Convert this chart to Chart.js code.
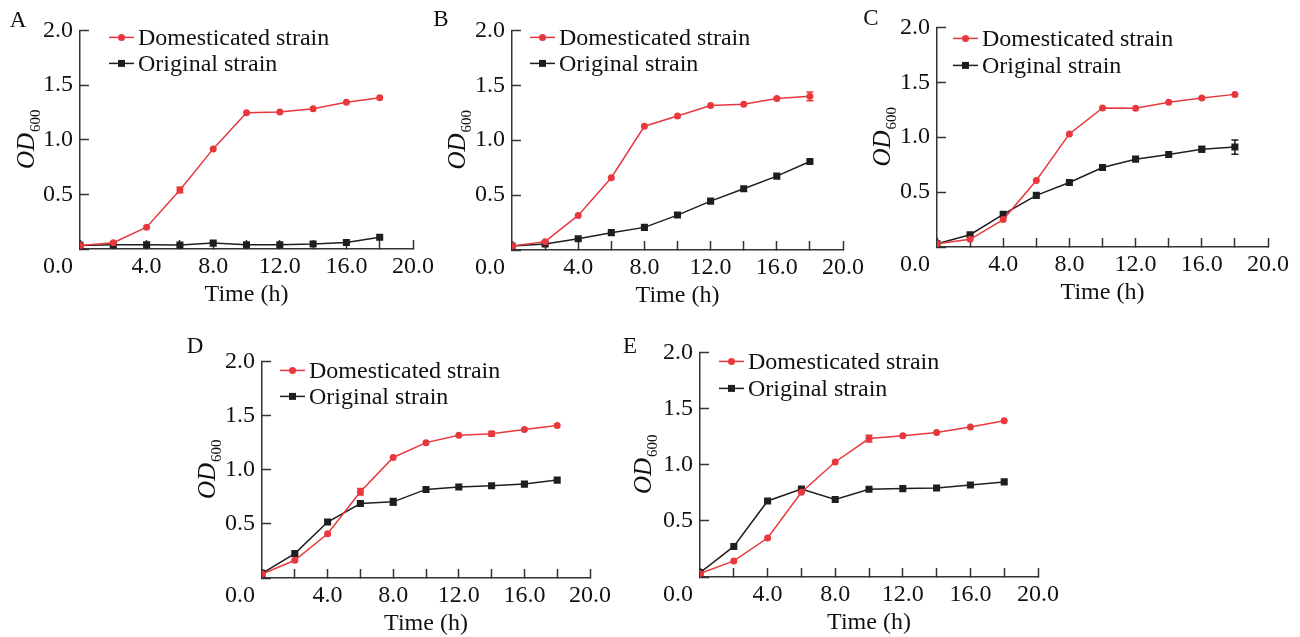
<!DOCTYPE html>
<html><head><meta charset="utf-8">
<script src="https://cdn.jsdelivr.net/npm/chart.js@4.4.1/dist/chart.umd.min.js"></script>
<style>
html,body{margin:0;padding:0;background:#fff;width:1300px;height:637px;overflow:hidden;position:relative}
canvas{position:absolute}
</style></head><body>
<script>
// ---------- DATA ----------
const times = [0, 2, 4, 6, 8, 10, 12, 14, 16, 18];
const seriesNames = ['Domesticated strain', 'Original strain'];
const panelLetters = ['A', 'B', 'C', 'D', 'E'];
const xTickValues = [4, 8, 12, 16, 20];
const yTickValues = [0.5, 1.0, 1.5, 2.0];
const xTitle = 'Time (h)';
const yTitleMain = 'OD';
const yTitleSub = '600';

const domA = [0.033, 0.057, 0.199, 0.539, 0.916, 1.247, 1.253, 1.283, 1.343, 1.383];
const oriA = [0.033, 0.039, 0.039, 0.036, 0.054, 0.039, 0.039, 0.045, 0.060, 0.108];
const domAErr = [0, 0, 0, 0.025, 0, 0, 0, 0, 0, 0];
const oriAErr = [0, 0, 0, 0, 0, 0, 0, 0, 0, 0];

const domB = [0.036, 0.076, 0.315, 0.658, 1.127, 1.221, 1.315, 1.327, 1.379, 1.400];
const oriB = [0.036, 0.055, 0.103, 0.158, 0.206, 0.318, 0.445, 0.558, 0.673, 0.806];
const domBErr = [0, 0, 0, 0, 0, 0, 0, 0, 0, 0.04];
const oriBErr = [0, 0, 0, 0, 0, 0, 0, 0, 0, 0];

const domC = [0.030, 0.070, 0.250, 0.606, 1.030, 1.267, 1.264, 1.318, 1.358, 1.390];
const oriC = [0.030, 0.112, 0.297, 0.470, 0.588, 0.724, 0.800, 0.842, 0.890, 0.910];
const domCErr = [0, 0, 0, 0, 0, 0, 0, 0, 0, 0];
const oriCErr = [0, 0, 0, 0, 0, 0, 0, 0, 0.025, 0.065];

const domD = [0.037, 0.164, 0.408, 0.797, 1.113, 1.250, 1.317, 1.332, 1.372, 1.408];
const oriD = [0.043, 0.225, 0.517, 0.688, 0.703, 0.818, 0.840, 0.852, 0.867, 0.904];
const domDErr = [0, 0, 0, 0.03, 0, 0, 0, 0.02, 0, 0];
const oriDErr = [0, 0, 0, 0, 0.03, 0, 0, 0, 0, 0];

const domE = [0.030, 0.143, 0.347, 0.755, 1.024, 1.233, 1.257, 1.287, 1.335, 1.391];
const oriE = [0.039, 0.272, 0.677, 0.784, 0.690, 0.781, 0.787, 0.793, 0.820, 0.847];
const domEErr = [0, 0, 0, 0, 0, 0.03, 0, 0, 0, 0];
const oriEErr = [0, 0, 0, 0, 0, 0, 0, 0, 0, 0];

// ---------- LAYOUT / STYLE ----------
const RED = '#e8383d';
const BLACK = '#1e1e1e';
const AXIS = '#333333';
const TEXT = '#111111';
const FONT = "'Liberation Serif', 'Times New Roman', Times, serif";
const FS = 24;
const yW = 85, padT = 30, padR = 35, xH = 64;

const panels = [
  {letter: panelLetters[0], dom: domA, ori: oriA, domErr: domAErr, oriErr: oriAErr,
   box: {L: 80, T: 30, R: 413, B: 249}, letterPos: {x: 18, y: 21}, leg: {dx: 29, r1: 7, r2: 33}, yt: -54},
  {letter: panelLetters[1], dom: domB, ori: oriB, domErr: domBErr, oriErr: oriBErr,
   box: {L: 512, T: 30, R: 843, B: 250}, letterPos: {x: 441, y: 20}, leg: {dx: 18, r1: 7, r2: 33}, yt: -55},
  {letter: panelLetters[2], dom: domC, ori: oriC, domErr: domCErr, oriErr: oriCErr,
   box: {L: 937, T: 27, R: 1268, B: 247}, letterPos: {x: 871, y: 19}, leg: {dx: 16, r1: 11, r2: 38}, yt: -55},
  {letter: panelLetters[3], dom: domD, ori: oriD, domErr: domDErr, oriErr: oriDErr,
   box: {L: 262, T: 361, R: 590, B: 578}, letterPos: {x: 195, y: 347}, leg: {dx: 18, r1: 9, r2: 35}, yt: -55},
  {letter: panelLetters[4], dom: domE, ori: oriE, domErr: domEErr, oriErr: oriEErr,
   box: {L: 700, T: 352, R: 1038, B: 577}, letterPos: {x: 630, y: 347}, leg: {dx: 19, r1: 9, r2: 36}, yt: -57}
];

Chart.defaults.font.family = FONT;
Chart.defaults.font.size = FS;
Chart.defaults.color = TEXT;

function makeDecor(p, canvasLeft, canvasTop) {
  return {
    id: 'decor' + p.letter,
    afterDatasetsDraw(chart) {
      const ctx = chart.ctx;
      const xs = chart.scales.x, ys = chart.scales.y;
      chart.data.datasets.forEach((ds) => {
        const errs = ds.errs || [];
        ctx.save();
        ctx.strokeStyle = ds.borderColor;
        ctx.lineWidth = 1.5;
        ds.data.forEach((pt, i) => {
          const e = errs[i];
          if (!e) return;
          const x = xs.getPixelForValue(pt.x);
          const y1 = ys.getPixelForValue(pt.y - e), y2 = ys.getPixelForValue(pt.y + e);
          ctx.beginPath();
          ctx.moveTo(x, y1); ctx.lineTo(x, y2);
          ctx.moveTo(x - 3.5, y1); ctx.lineTo(x + 3.5, y1);
          ctx.moveTo(x - 3.5, y2); ctx.lineTo(x + 3.5, y2);
          ctx.stroke();
        });
        ctx.restore();
      });
    },
    afterDraw(chart) {
      const ctx = chart.ctx;
      const a = chart.chartArea;
      const xs = chart.scales.x;
      ctx.save();
      ctx.fillStyle = TEXT;
      ctx.font = '23px ' + FONT;
      ctx.textAlign = 'center';
      ctx.textBaseline = 'middle';
      ctx.fillText(p.letter, p.letterPos.x - canvasLeft, p.letterPos.y - canvasTop);
      ctx.font = FS + 'px ' + FONT;
      ctx.textAlign = 'right';
      const lblY = xs.top - 9 + 12 + FS * 1.2 / 2;
      ctx.fillText((0).toFixed(1), a.left - 7, lblY);
      const cx = a.left + p.yt, cy = (a.top + a.bottom) / 2;
      ctx.translate(cx, cy);
      ctx.rotate(-Math.PI / 2);
      const f1 = 'italic 25px ' + FONT, f2 = '15px ' + FONT;
      ctx.font = f1; const w1 = ctx.measureText(yTitleMain).width;
      ctx.font = f2; const w2 = ctx.measureText(yTitleSub).width;
      const start = -(w1 + w2) / 2;
      ctx.textAlign = 'left';
      ctx.textBaseline = 'alphabetic';
      ctx.font = f1; ctx.fillText(yTitleMain, start, 8);
      ctx.font = f2; ctx.fillText(yTitleSub, start + w1 + 1, 14);
      ctx.restore();
      ctx.save();
      chart.data.datasets.forEach((ds, di) => {
        const ry = a.top + (di === 0 ? p.leg.r1 : p.leg.r2);
        const x0 = a.left + p.leg.dx, x1 = x0 + 25;
        ctx.strokeStyle = ds.borderColor; ctx.lineWidth = 1.5;
        ctx.beginPath(); ctx.moveTo(x0, ry); ctx.lineTo(x1, ry); ctx.stroke();
        ctx.fillStyle = ds.borderColor;
        const mx = (x0 + x1) / 2;
        if (ds.pointStyle === 'rect') { ctx.fillRect(mx - 3.5, ry - 3.5, 7, 7); }
        else { ctx.beginPath(); ctx.arc(mx, ry, 3.5, 0, Math.PI * 2); ctx.fill(); }
        ctx.fillStyle = TEXT;
        ctx.font = FS + 'px ' + FONT;
        ctx.textAlign = 'left'; ctx.textBaseline = 'middle';
        ctx.fillText(ds.label, x1 + 4, ry + 1);
      });
      ctx.restore();
    }
  };
}

panels.forEach(p => {
  const b = p.box;
  const W = yW + (b.R - b.L) + padR;
  const H = padT + (b.B - b.T) + xH;
  const left = b.L - yW, top = b.T - padT;
  const cv = document.createElement('canvas');
  cv.width = W; cv.height = H;
  cv.style.left = left + 'px'; cv.style.top = top + 'px';
  cv.style.width = W + 'px'; cv.style.height = H + 'px';
  document.body.appendChild(cv);

  const gridOpts = {drawOnChartArea: false, drawTicks: true, tickLength: -9, tickColor: AXIS, tickWidth: 1.5};
  const borderOpts = {display: true, color: AXIS, width: 1.5};

  new Chart(cv, {
    type: 'line',
    data: {
      datasets: [
        {label: seriesNames[0], data: times.map((t, i) => ({x: t, y: p.dom[i]})), errs: p.domErr,
         borderColor: RED, backgroundColor: RED, borderWidth: 1.5, pointStyle: 'circle', pointRadius: 3.5,
         pointBorderWidth: 0, tension: 0, fill: false},
        {label: seriesNames[1], data: times.map((t, i) => ({x: t, y: p.ori[i]})), errs: p.oriErr,
         borderColor: BLACK, backgroundColor: BLACK, borderWidth: 1.5, pointStyle: 'rect', pointRadius: 5,
         pointBorderWidth: 0, tension: 0, fill: false}
      ]
    },
    options: {
      responsive: false, animation: false, devicePixelRatio: 1,
      layout: {padding: {left: 0, top: padT, right: padR, bottom: 0}},
      plugins: {legend: {display: false}, tooltip: {enabled: false}},
      scales: {
        x: {
          type: 'linear', min: 0, max: 20,
          afterFit(s) { s.height = xH; },
          ticks: {stepSize: 2, autoSkip: false, maxRotation: 0, padding: 12, color: TEXT,
                  callback: v => xTickValues.includes(v) ? v.toFixed(1) : ''},
          grid: gridOpts, border: borderOpts,
          title: {display: true, text: xTitle, color: TEXT, font: {size: FS}, padding: {top: 0, bottom: 4}}
        },
        y: {
          min: 0, max: 2,
          afterFit(s) { s.width = yW; },
          ticks: {stepSize: 0.5, padding: 16, color: TEXT,
                  callback: v => yTickValues.includes(v) ? v.toFixed(1) : ''},
          grid: gridOpts, border: borderOpts
        }
      }
    },
    plugins: [makeDecor(p, left, top)]
  });
});
</script>
</body></html>
